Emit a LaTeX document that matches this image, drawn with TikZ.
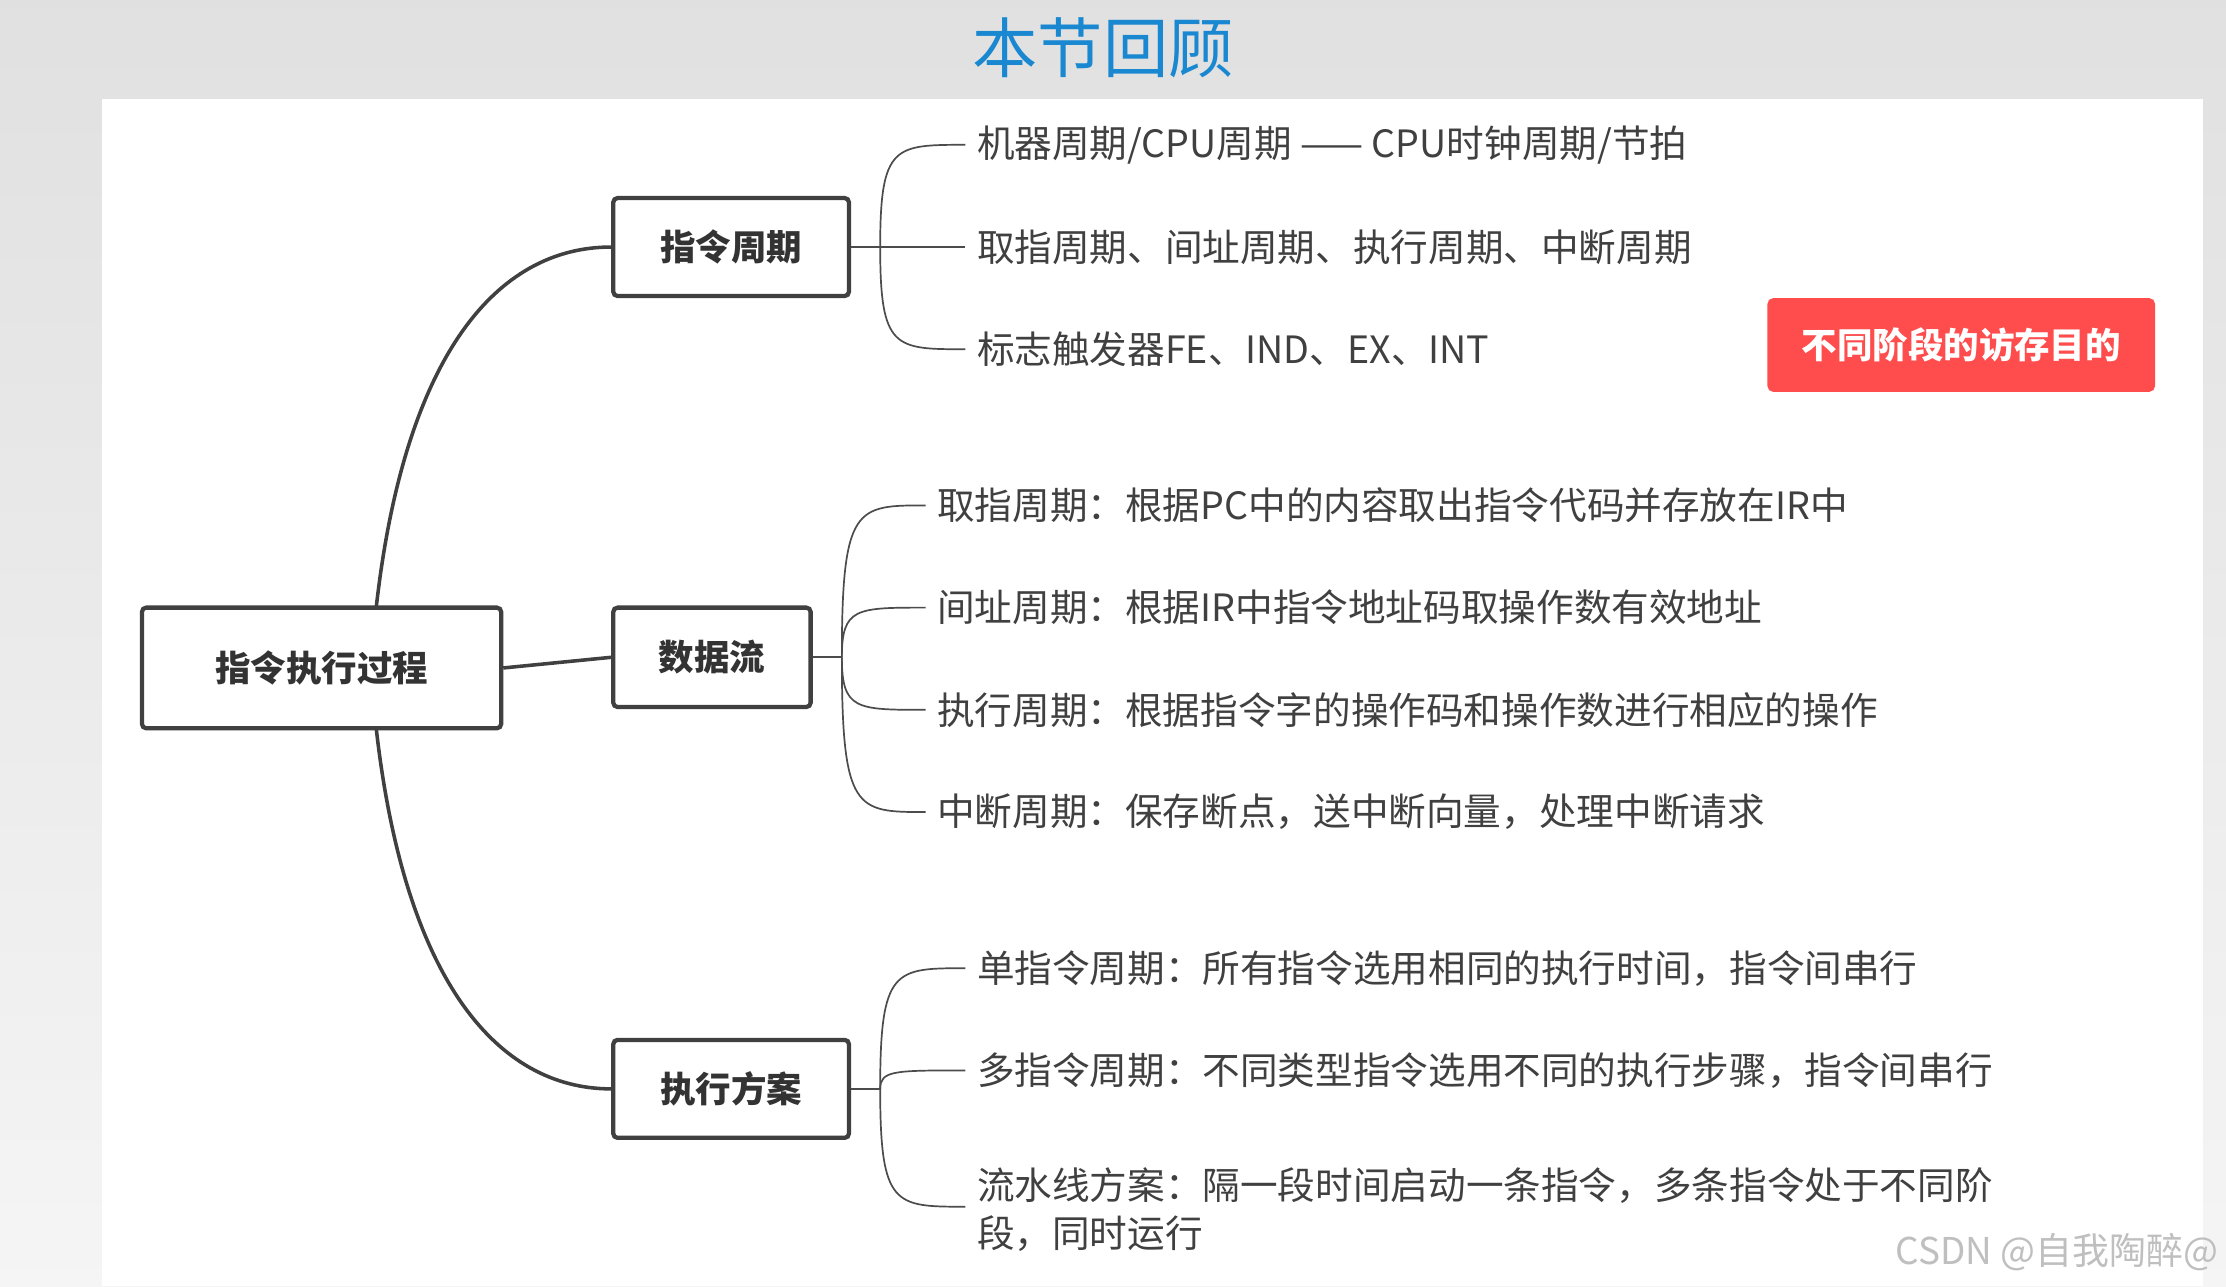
\documentclass[tikz,border=0pt]{standalone}
\usepackage{fontspec}
\setmainfont{Noto Sans CJK SC}
\begin{document}
\begin{tikzpicture}[x=1pt,y=-1pt,
  box/.style={draw=black!75,line width=3pt,rounded corners=3pt,font=\fontsize{25}{28}\selectfont\bfseries,text=black!80,inner sep=0pt},
  leaf/.style={anchor=west,font=\fontsize{26.5}{34}\selectfont,text=black!75,inner sep=0pt,align=left},
  br/.style={draw=black!70,line width=1.2pt},
  main/.style={draw=black!75,line width=2.5pt}]
\useasboundingbox (0,0) rectangle (1568,906);
\shade[top color=black!12,bottom color=black!4] (0,0) rectangle (1568,906);
\fill[white] (72,70) rectangle (1552,906);
\node[font=\fontsize{46}{50}\selectfont,text=blue!40!cyan!80!black!90] (title) at (777,34) {本节回顾};
% boxes
\node[box,minimum width=253,minimum height=85] (root) at (226.5,470.5) {指令执行过程};
\node[box,minimum width=166,minimum height=69] (a) at (515,174) {指令周期};
\node[box,minimum width=139,minimum height=70] (b) at (501.5,463) {数据流};
\node[box,minimum width=166,minimum height=69] (c) at (515,767) {执行方案};
\node[fill=red!70!white,rounded corners=4pt,minimum width=273,minimum height=66,text=white,font=\fontsize{25}{28}\selectfont\bfseries,inner sep=0pt] (red) at (1381.5,243) {不同阶段的访存目的};
% main connectors
\coordinate (rt) at (265,428);
\coordinate (rb) at (265,513);
\draw[main] (rt) .. controls (285,250) and (350,174) .. (a.west);
\draw[main] (root.east) -- (b.west);
\draw[main] (rb) .. controls (285,690) and (350,767) .. (c.west);
% leaves A
\coordinate (aj) at (620,174);
\draw[br] (a.east) -- (aj);
\node[leaf] (a1) at (688,102) {机器周期/CPU周期 —— CPU时钟周期/节拍};
\node[leaf] (a2) at (688,174) {取指周期、间址周期、执行周期、中断周期};
\node[leaf] (a3) at (688,246) {标志触发器FE、IND、EX、INT};
\foreach \n in {a1,a2,a3}{\draw[br] (aj) .. controls (620,0|-\n.west) and (630,0|-\n.west) .. ([xshift=-8pt]\n.west);}
% leaves B
\coordinate (bj) at (593,463);
\draw[br] (b.east) -- (bj);
\node[leaf] (b1) at (660,356) {取指周期：根据PC中的内容取出指令代码并存放在IR中};
\node[leaf] (b2) at (660,428) {间址周期：根据IR中指令地址码取操作数有效地址};
\node[leaf] (b3) at (660,500) {执行周期：根据指令字的操作码和操作数进行相应的操作};
\node[leaf] (b4) at (660,572) {中断周期：保存断点，送中断向量，处理中断请求};
\foreach \n in {b1,b2,b3,b4}{\draw[br] (bj) .. controls (593,0|-\n.west) and (603,0|-\n.west) .. ([xshift=-8pt]\n.west);}
% leaves C
\coordinate (cj) at (620,767);
\draw[br] (c.east) -- (cj);
\node[leaf] (c1) at (688,682) {单指令周期：所有指令选用相同的执行时间，指令间串行};
\node[leaf] (c2) at (688,754) {多指令周期：不同类型指令选用不同的执行步骤，指令间串行};
\node[leaf] (c3) at (688,852) {流水线方案：隔一段时间启动一条指令，多条指令处于不同阶\\段，同时运行};
\coordinate (c3e) at (680,850);
\draw[br] (cj) .. controls (620,682) and (630,682) .. ([xshift=-8pt]c1.west);
\draw[br] (cj) .. controls (620,754) and (630,754) .. ([xshift=-8pt]c2.west);
\draw[br] (cj) .. controls (620,850) and (630,850) .. (c3e);
\node[anchor=east,font=\fontsize{26}{30}\selectfont,text=black!25] (csdn) at (1566,882) {CSDN @自我陶醉@};
\end{tikzpicture}
\end{document}
